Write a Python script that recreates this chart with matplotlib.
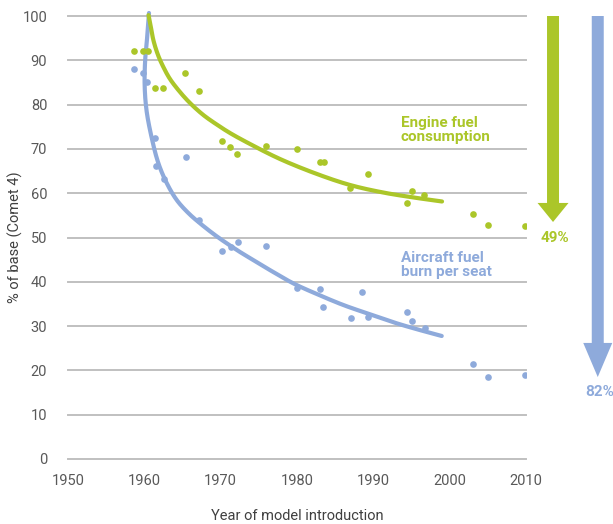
import numpy as np
import matplotlib
matplotlib.use("Agg")
import matplotlib.pyplot as plt
from matplotlib.patches import FancyArrow

plt.rcParams['font.family'] = ['Roboto', 'DejaVu Sans']

GREEN = '#abc629'
BLUE = '#8eaadb'
GRID = '#c0c0c0'
TXT = '#595959'

# Engine fuel consumption (scatter)
engine_year = [1958.6, 1959.8, 1960.5, 1961.4, 1962.4, 1965.3, 1967.2, 1970.2, 1971.2,
               1972.1, 1975.9, 1980.0, 1983.0, 1983.5, 1986.9, 1989.3, 1994.4, 1995.1,
               1996.6, 2003.1, 2005.0, 2009.9]
engine_val = [92.1, 92.1, 92.1, 83.7, 83.7, 87.1, 83.1, 71.8, 70.4,
              68.8, 70.7, 70.0, 67.0, 67.0, 61.2, 64.3, 57.8, 60.5,
              59.6, 55.3, 52.8, 52.6]

# Aircraft fuel burn per seat (scatter)
aircraft_year = [1958.6, 1959.8, 1960.3, 1961.4, 1961.5, 1962.6, 1965.5, 1967.2, 1970.2,
                 1971.4, 1972.3, 1975.9, 1980.0, 1983.0, 1983.4, 1987.1, 1988.5, 1989.3,
                 1994.4, 1995.1, 1996.8, 2003.1, 2005.0, 2009.9]
aircraft_val = [88.0, 87.1, 85.1, 72.5, 66.1, 63.2, 68.2, 54.0, 47.0,
                47.9, 49.0, 48.1, 38.6, 38.4, 34.3, 31.8, 37.7, 32.1,
                33.2, 31.2, 29.6, 21.4, 18.5, 19.0]

# Trend lines
engine_trend_year = [1960.55, 1960.81, 1961.18, 1961.79, 1962.49, 1963.36, 1964.67, 1965.98,
                     1967.73, 1969.48, 1971.22, 1973.84, 1977.77, 1982.62, 1986.95, 1991.27,
                     1995.72, 1999.00]
engine_trend_val = [100.2, 97.97, 94.58, 91.20, 88.49, 85.78, 82.84, 80.36,
                    77.65, 75.51, 73.59, 71.11, 67.72, 64.33, 61.85, 60.16,
                    58.92, 58.13]

aircraft_trend_year = [1960.61, 1960.42, 1960.11, 1960.04, 1960.28, 1960.94, 1961.83, 1962.93,
                       1964.24, 1965.76, 1967.29, 1969.48, 1972.10, 1973.84, 1976.46, 1979.52,
                       1982.58, 1986.07, 1989.57, 1993.06, 1996.55, 1998.96]
aircraft_trend_val = [100.68, 96.16, 90.07, 84.42, 78.78, 72.69, 66.82, 62.30,
                      58.47, 55.53, 53.21, 50.27, 47.20, 45.35, 42.64, 39.64,
                      37.25, 34.76, 32.66, 30.63, 28.89, 27.77]

reduction_labels = ['49%', '82%']
arrow_tips = [53.5, 18.5]

x_ticks = [1950, 1960, 1970, 1980, 1990, 2000, 2010]
y_ticks = list(range(0, 101, 10))


def centripetal_cr(xs, ys, sx=7.633, sy=4.43, n=30):
    P = np.column_stack([np.asarray(xs) * sx, np.asarray(ys) * sy])
    P = np.vstack([2 * P[0] - P[1], P, 2 * P[-1] - P[-2]])
    out = []
    for i in range(1, len(P) - 2):
        p0, p1, p2, p3 = P[i - 1], P[i], P[i + 1], P[i + 2]
        t0 = 0.0
        t1 = t0 + max(np.linalg.norm(p1 - p0), 1e-6) ** 0.5
        t2 = t1 + max(np.linalg.norm(p2 - p1), 1e-6) ** 0.5
        t3 = t2 + max(np.linalg.norm(p3 - p2), 1e-6) ** 0.5
        t = np.linspace(t1, t2, n)[:, None]
        a1 = (t1 - t) / (t1 - t0) * p0 + (t - t0) / (t1 - t0) * p1
        a2 = (t2 - t) / (t2 - t1) * p1 + (t - t1) / (t2 - t1) * p2
        a3 = (t3 - t) / (t3 - t2) * p2 + (t - t2) / (t3 - t2) * p3
        b1 = (t2 - t) / (t2 - t0) * a1 + (t - t0) / (t2 - t0) * a2
        b2 = (t3 - t) / (t3 - t1) * a2 + (t - t1) / (t3 - t1) * a3
        c = (t2 - t) / (t2 - t1) * b1 + (t - t1) / (t2 - t1) * b2
        out.append(c if i == 1 else c[1:])
    C = np.vstack(out)
    return C[:, 0] / sx, C[:, 1] / sy


fig = plt.figure(figsize=(6.13, 5.24), dpi=100)
ax = fig.add_axes([68 / 613, 1 - 459 / 524, (526 - 68) / 613, (459 - 16) / 524])
ax.set_xlim(1950, 2010)
ax.set_ylim(0, 100)

for v in y_ticks:
    ax.axhline(v, color=GRID, lw=1.4, zorder=0, clip_on=False)

ex, ey = centripetal_cr(engine_trend_year, engine_trend_val)
axx, axy = centripetal_cr(aircraft_trend_year, aircraft_trend_val)
ax.plot(axx, axy, color=BLUE, lw=3.0, solid_capstyle='round', zorder=2, clip_on=False)
ax.plot(ex, ey, color=GREEN, lw=3.0, solid_capstyle='round', zorder=2, clip_on=False)

ax.plot(engine_year, engine_val, 'o', color=GREEN, ms=4.8, mec='none', zorder=3)
ax.plot(aircraft_year, aircraft_val, 'o', color=BLUE, ms=4.8, mec='none', zorder=3)

for s in ax.spines.values():
    s.set_visible(False)
ax.set_xticks(x_ticks)
ax.set_yticks(y_ticks)
ax.tick_params(length=0, labelsize=10.5, labelcolor=TXT)
ax.tick_params(axis='y', pad=15)
ax.tick_params(axis='x', pad=11)
ax.set_xlabel('Year of model introduction', fontsize=10.5, color='#404040', labelpad=15)
ax.set_ylabel('% of base (Comet 4)', fontsize=10.5, color='#404040')
ax.yaxis.set_label_coords(-0.098, 0.5)

ax.text(1993.6, 74.3, 'Engine fuel\nconsumption', color=GREEN, fontsize=11,
        fontweight='bold', va='center', ha='left', linespacing=1.05)
ax.text(1993.6, 43.8, 'Aircraft fuel\nburn per seat', color=BLUE, fontsize=11,
        fontweight='bold', va='center', ha='left', linespacing=1.05)

# reduction arrows
arrow_x = [2013.54, 2019.4]
arrow_w = [1.57, 1.57]
head_w = [4.06, 3.8]
head_l = [4.3, 7.7]
colors = [GREEN, BLUE]
label_y = [49.9, 15.1]
for xa, tip, w, hw, hl, c, lab, ly in zip(arrow_x, arrow_tips, arrow_w, head_w, head_l,
                                          colors, reduction_labels, label_y):
    arr = FancyArrow(xa, 100, 0, tip - 100, width=w, head_width=hw, head_length=hl,
                     length_includes_head=True, color=c, lw=0, clip_on=False)
    ax.add_patch(arr)
    ax.text(xa + 0.3, ly, lab, color=c, fontsize=11, fontweight='bold',
            ha='center', va='center', clip_on=False)

fig.savefig('out.png', dpi=100)
